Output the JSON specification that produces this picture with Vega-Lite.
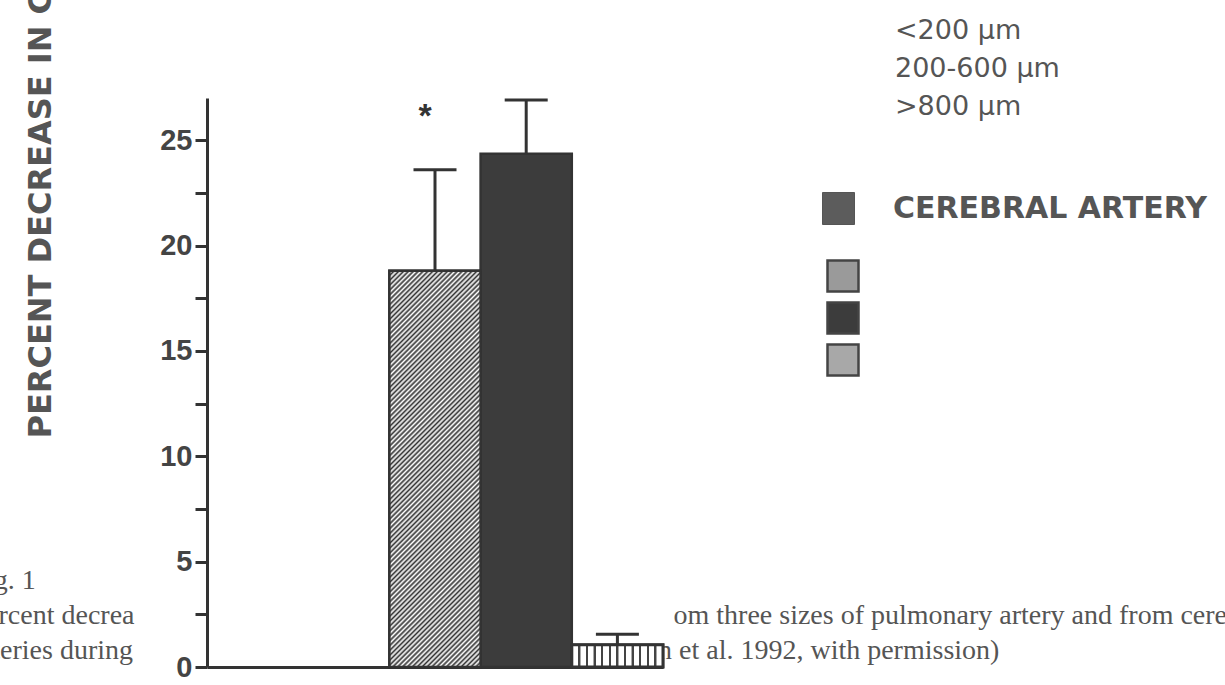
{
  "$schema": "https://vega.github.io/schema/vega-lite/v6.json",
  "width": 456,
  "height": 569,
  "autosize": {"type": "none"},
  "padding": {"left": 207, "top": 98, "right": 562, "bottom": 18},
  "background": "white",
  "config": {"view": {"stroke": null}},
  "title": {
    "text": ["<200 µm", "200-600 µm", ">800 µm"],
    "orient": "top", "anchor": "start", "frame": "group", "align": "left", "baseline": "alphabetic",
    "offset": 0, "dx": 688, "dy": 152,
    "font": "DejaVu Sans", "fontSize": 27, "fontWeight": "normal", "color": "#555", "lineHeight": 38
  },
  "data": {"values": [
    {"size": "<200 µm", "mean": 18.8, "upper": 23.6, "sig": "*"},
    {"size": "200-600 µm", "mean": 24.35, "upper": 26.9, "sig": ""},
    {"size": ">800 µm", "mean": 1.05, "upper": 1.55, "sig": ""}
  ]},
  "encoding": {
    "x": {
      "field": "size", "type": "nominal", "sort": null,
      "scale": {"domain": ["<200 µm", "200-600 µm", ">800 µm"], "paddingInner": 0, "paddingOuter": 1, "align": 1},
      "axis": {
        "title": ["Fig. 1", "Percent decrea\u00a0\u00a0\u00a0\u00a0\u00a0\u00a0\u00a0\u00a0\u00a0\u00a0\u00a0\u00a0\u00a0\u00a0\u00a0\u00a0\u00a0\u00a0\u00a0\u00a0\u00a0\u00a0\u00a0\u00a0\u00a0\u00a0\u00a0\u00a0\u00a0\u00a0\u00a0\u00a0\u00a0\u00a0\u00a0\u00a0\u00a0\u00a0\u00a0\u00a0\u00a0\u00a0\u00a0\u00a0\u00a0\u00a0\u00a0\u00a0\u00a0\u00a0\u00a0\u00a0\u00a0\u00a0\u00a0\u00a0\u00a0\u00a0\u00a0\u00a0\u00a0\u00a0\u00a0\u00a0\u00a0\u00a0\u00a0\u00a0\u00a0\u00a0\u00a0\u00a0\u00a0\u00a0\u00a0\u00a0\u00a0om three sizes of pulmonary artery and from cere", "arteries during\u00a0\u00a0\u00a0\u00a0\u00a0\u00a0\u00a0\u00a0\u00a0\u00a0\u00a0\u00a0\u00a0\u00a0\u00a0\u00a0\u00a0\u00a0\u00a0\u00a0\u00a0\u00a0\u00a0\u00a0\u00a0\u00a0\u00a0\u00a0\u00a0\u00a0\u00a0\u00a0\u00a0\u00a0\u00a0\u00a0\u00a0\u00a0\u00a0\u00a0\u00a0\u00a0\u00a0\u00a0\u00a0\u00a0\u00a0\u00a0\u00a0\u00a0\u00a0\u00a0\u00a0\u00a0\u00a0\u00a0\u00a0\u00a0\u00a0\u00a0\u00a0\u00a0\u00a0\u00a0\u00a0\u00a0\u00a0\u00a0\u00a0\u00a0\u00a0\u00a0\u00a0\u00a0\u00a0n et al. 1992, with permission)"],
        "labels": false, "ticks": false, "grid": false,
        "domainColor": "#333", "domainWidth": 3,
        "titleFont": "Liberation Serif", "titleFontWeight": "normal", "titleFontSize": 28, "titleColor": "#555",
        "titleX": -237, "titleY": -79, "titleAlign": "left", "titleBaseline": "alphabetic", "titleAngle": 0,
        "titleLineHeight": 35, "titleLimit": 3000
      }
    },
    "y": {
      "field": "mean", "type": "quantitative",
      "scale": {"domain": [0, 27], "nice": false},
      "axis": {
        "title": "PERCENT DECREASE IN C",
        "values": [0, 2.5, 5, 7.5, 10, 12.5, 15, 17.5, 20, 22.5, 25],
        "labelExpr": "datum.value % 5 === 0 ? datum.label : ''",
        "grid": false, "labelFlush": false, "labelOverlap": false,
        "domainColor": "#333", "domainWidth": 3, "tickColor": "#333", "tickWidth": 3, "tickSize": 12,
        "labelFont": "Liberation Sans", "labelFontWeight": "bold", "labelFontSize": 29, "labelColor": "#444", "labelPadding": 3,
        "titleFont": "DejaVu Sans", "titleFontWeight": "bold", "titleFontSize": 32, "titleColor": "#555",
        "titleAngle": 270, "titleX": -167, "titleY": 340, "titleAlign": "left", "titleBaseline": "middle", "titleLimit": 2000
      }
    }
  },
  "layer": [
    {
      "mark": {"type": "bar", "stroke": "#333", "strokeWidth": 2.5},
      "encoding": {
        "fill": {
          "field": "size", "type": "nominal",
          "scale": {"domain": ["<200 µm", "200-600 µm", ">800 µm"], "range": ["#9a9a9a", "#3c3c3c", "#a8a8a8"]},
          "legend": {
            "orient": "none", "legendX": 619, "legendY": 161, "title": null, "padding": 0,
            "symbolType": "square", "symbolSize": 961, "symbolStrokeWidth": 2.5, "symbolStrokeColor": "#444", "symbolOpacity": 1,
            "rowPadding": 0, "labelExpr": "''", "labelFontSize": 10
          }
        },
        "opacity": {
          "datum": "CEREBRAL ARTERY", "type": "nominal",
          "scale": {"range": [1]},
          "legend": {
            "orient": "none", "legendX": 615, "legendY": 94, "title": null, "padding": 0,
            "symbolType": "square", "symbolSize": 1024, "symbolFillColor": "#5c5c5c", "symbolStrokeColor": "#555", "symbolStrokeWidth": 1,
            "labelOffset": 38, "labelLimit": 500,
            "labelFont": "DejaVu Sans", "labelFontWeight": "bold", "labelFontSize": 30, "labelColor": "#555", "labelBaseline": "middle"
          }
        }
      }
    },
    {
      "transform": [{"filter": "datum.size === '<200 µm'"}],
      "mark": {"type": "bar", "stroke": "#333", "strokeWidth": 2.5, "fill": {"gradient": "linear", "x1": 0, "y1": 0, "x2": 0.2683, "y2": 1.168, "stops": [
        {"offset": 0, "color": "#333"}, {"offset": 0.005, "color": "#fff"}, {"offset": 0.01, "color": "#333"}, {"offset": 0.015, "color": "#fff"}, {"offset": 0.02, "color": "#333"}, {"offset": 0.025, "color": "#fff"}, {"offset": 0.03, "color": "#333"}, {"offset": 0.035, "color": "#fff"}, {"offset": 0.04, "color": "#333"}, {"offset": 0.045, "color": "#fff"},
        {"offset": 0.05, "color": "#333"}, {"offset": 0.055, "color": "#fff"}, {"offset": 0.06, "color": "#333"}, {"offset": 0.065, "color": "#fff"}, {"offset": 0.07, "color": "#333"}, {"offset": 0.075, "color": "#fff"}, {"offset": 0.08, "color": "#333"}, {"offset": 0.085, "color": "#fff"}, {"offset": 0.09, "color": "#333"}, {"offset": 0.095, "color": "#fff"},
        {"offset": 0.1, "color": "#333"}, {"offset": 0.105, "color": "#fff"}, {"offset": 0.11, "color": "#333"}, {"offset": 0.115, "color": "#fff"}, {"offset": 0.12, "color": "#333"}, {"offset": 0.125, "color": "#fff"}, {"offset": 0.13, "color": "#333"}, {"offset": 0.135, "color": "#fff"}, {"offset": 0.14, "color": "#333"}, {"offset": 0.145, "color": "#fff"},
        {"offset": 0.15, "color": "#333"}, {"offset": 0.155, "color": "#fff"}, {"offset": 0.16, "color": "#333"}, {"offset": 0.165, "color": "#fff"}, {"offset": 0.17, "color": "#333"}, {"offset": 0.175, "color": "#fff"}, {"offset": 0.18, "color": "#333"}, {"offset": 0.185, "color": "#fff"}, {"offset": 0.19, "color": "#333"}, {"offset": 0.195, "color": "#fff"},
        {"offset": 0.2, "color": "#333"}, {"offset": 0.205, "color": "#fff"}, {"offset": 0.21, "color": "#333"}, {"offset": 0.215, "color": "#fff"}, {"offset": 0.22, "color": "#333"}, {"offset": 0.225, "color": "#fff"}, {"offset": 0.23, "color": "#333"}, {"offset": 0.235, "color": "#fff"}, {"offset": 0.24, "color": "#333"}, {"offset": 0.245, "color": "#fff"},
        {"offset": 0.25, "color": "#333"}, {"offset": 0.255, "color": "#fff"}, {"offset": 0.26, "color": "#333"}, {"offset": 0.265, "color": "#fff"}, {"offset": 0.27, "color": "#333"}, {"offset": 0.275, "color": "#fff"}, {"offset": 0.28, "color": "#333"}, {"offset": 0.285, "color": "#fff"}, {"offset": 0.29, "color": "#333"}, {"offset": 0.295, "color": "#fff"},
        {"offset": 0.3, "color": "#333"}, {"offset": 0.305, "color": "#fff"}, {"offset": 0.31, "color": "#333"}, {"offset": 0.315, "color": "#fff"}, {"offset": 0.32, "color": "#333"}, {"offset": 0.325, "color": "#fff"}, {"offset": 0.33, "color": "#333"}, {"offset": 0.335, "color": "#fff"}, {"offset": 0.34, "color": "#333"}, {"offset": 0.345, "color": "#fff"},
        {"offset": 0.35, "color": "#333"}, {"offset": 0.355, "color": "#fff"}, {"offset": 0.36, "color": "#333"}, {"offset": 0.365, "color": "#fff"}, {"offset": 0.37, "color": "#333"}, {"offset": 0.375, "color": "#fff"}, {"offset": 0.38, "color": "#333"}, {"offset": 0.385, "color": "#fff"}, {"offset": 0.39, "color": "#333"}, {"offset": 0.395, "color": "#fff"},
        {"offset": 0.4, "color": "#333"}, {"offset": 0.405, "color": "#fff"}, {"offset": 0.41, "color": "#333"}, {"offset": 0.415, "color": "#fff"}, {"offset": 0.42, "color": "#333"}, {"offset": 0.425, "color": "#fff"}, {"offset": 0.43, "color": "#333"}, {"offset": 0.435, "color": "#fff"}, {"offset": 0.44, "color": "#333"}, {"offset": 0.445, "color": "#fff"},
        {"offset": 0.45, "color": "#333"}, {"offset": 0.455, "color": "#fff"}, {"offset": 0.46, "color": "#333"}, {"offset": 0.465, "color": "#fff"}, {"offset": 0.47, "color": "#333"}, {"offset": 0.475, "color": "#fff"}, {"offset": 0.48, "color": "#333"}, {"offset": 0.485, "color": "#fff"}, {"offset": 0.49, "color": "#333"}, {"offset": 0.495, "color": "#fff"},
        {"offset": 0.5, "color": "#333"}, {"offset": 0.505, "color": "#fff"}, {"offset": 0.51, "color": "#333"}, {"offset": 0.515, "color": "#fff"}, {"offset": 0.52, "color": "#333"}, {"offset": 0.525, "color": "#fff"}, {"offset": 0.53, "color": "#333"}, {"offset": 0.535, "color": "#fff"}, {"offset": 0.54, "color": "#333"}, {"offset": 0.545, "color": "#fff"},
        {"offset": 0.55, "color": "#333"}, {"offset": 0.555, "color": "#fff"}, {"offset": 0.56, "color": "#333"}, {"offset": 0.565, "color": "#fff"}, {"offset": 0.57, "color": "#333"}, {"offset": 0.575, "color": "#fff"}, {"offset": 0.58, "color": "#333"}, {"offset": 0.585, "color": "#fff"}, {"offset": 0.59, "color": "#333"}, {"offset": 0.595, "color": "#fff"},
        {"offset": 0.6, "color": "#333"}, {"offset": 0.605, "color": "#fff"}, {"offset": 0.61, "color": "#333"}, {"offset": 0.615, "color": "#fff"}, {"offset": 0.62, "color": "#333"}, {"offset": 0.625, "color": "#fff"}, {"offset": 0.63, "color": "#333"}, {"offset": 0.635, "color": "#fff"}, {"offset": 0.64, "color": "#333"}, {"offset": 0.645, "color": "#fff"},
        {"offset": 0.65, "color": "#333"}, {"offset": 0.655, "color": "#fff"}, {"offset": 0.66, "color": "#333"}, {"offset": 0.665, "color": "#fff"}, {"offset": 0.67, "color": "#333"}, {"offset": 0.675, "color": "#fff"}, {"offset": 0.68, "color": "#333"}, {"offset": 0.685, "color": "#fff"}, {"offset": 0.69, "color": "#333"}, {"offset": 0.695, "color": "#fff"},
        {"offset": 0.7, "color": "#333"}, {"offset": 0.705, "color": "#fff"}, {"offset": 0.71, "color": "#333"}, {"offset": 0.715, "color": "#fff"}, {"offset": 0.72, "color": "#333"}, {"offset": 0.725, "color": "#fff"}, {"offset": 0.73, "color": "#333"}, {"offset": 0.735, "color": "#fff"}, {"offset": 0.74, "color": "#333"}, {"offset": 0.745, "color": "#fff"},
        {"offset": 0.75, "color": "#333"}, {"offset": 0.755, "color": "#fff"}, {"offset": 0.76, "color": "#333"}, {"offset": 0.765, "color": "#fff"}, {"offset": 0.77, "color": "#333"}, {"offset": 0.775, "color": "#fff"}, {"offset": 0.78, "color": "#333"}, {"offset": 0.785, "color": "#fff"}, {"offset": 0.79, "color": "#333"}, {"offset": 0.795, "color": "#fff"},
        {"offset": 0.8, "color": "#333"}, {"offset": 0.805, "color": "#fff"}, {"offset": 0.81, "color": "#333"}, {"offset": 0.815, "color": "#fff"}, {"offset": 0.82, "color": "#333"}, {"offset": 0.825, "color": "#fff"}, {"offset": 0.83, "color": "#333"}, {"offset": 0.835, "color": "#fff"}, {"offset": 0.84, "color": "#333"}, {"offset": 0.845, "color": "#fff"},
        {"offset": 0.85, "color": "#333"}, {"offset": 0.855, "color": "#fff"}, {"offset": 0.86, "color": "#333"}, {"offset": 0.865, "color": "#fff"}, {"offset": 0.87, "color": "#333"}, {"offset": 0.875, "color": "#fff"}, {"offset": 0.88, "color": "#333"}, {"offset": 0.885, "color": "#fff"}, {"offset": 0.89, "color": "#333"}, {"offset": 0.895, "color": "#fff"},
        {"offset": 0.9, "color": "#333"}, {"offset": 0.905, "color": "#fff"}, {"offset": 0.91, "color": "#333"}, {"offset": 0.915, "color": "#fff"}, {"offset": 0.92, "color": "#333"}, {"offset": 0.925, "color": "#fff"}, {"offset": 0.93, "color": "#333"}, {"offset": 0.935, "color": "#fff"}, {"offset": 0.94, "color": "#333"}, {"offset": 0.945, "color": "#fff"},
        {"offset": 0.95, "color": "#333"}, {"offset": 0.955, "color": "#fff"}, {"offset": 0.96, "color": "#333"}, {"offset": 0.965, "color": "#fff"}, {"offset": 0.97, "color": "#333"}, {"offset": 0.975, "color": "#fff"}, {"offset": 0.98, "color": "#333"}, {"offset": 0.985, "color": "#fff"}, {"offset": 0.99, "color": "#333"}, {"offset": 0.995, "color": "#fff"},
        {"offset": 1, "color": "#333"}
      ]}}
    },
    {
      "transform": [{"filter": "datum.size === '>800 µm'"}],
      "mark": {"type": "bar", "stroke": "#333", "strokeWidth": 3, "fill": {"gradient": "linear", "x1": 0, "y1": 0, "x2": 1, "y2": 0, "stops": [
        {"offset": 0, "color": "#fff"},
        {"offset": 0.0703, "color": "#fff"}, {"offset": 0.0723, "color": "#444"}, {"offset": 0.0943, "color": "#444"}, {"offset": 0.0963, "color": "#fff"},
        {"offset": 0.1537, "color": "#fff"}, {"offset": 0.1557, "color": "#444"}, {"offset": 0.1777, "color": "#444"}, {"offset": 0.1797, "color": "#fff"},
        {"offset": 0.237, "color": "#fff"}, {"offset": 0.239, "color": "#444"}, {"offset": 0.261, "color": "#444"}, {"offset": 0.263, "color": "#fff"},
        {"offset": 0.3203, "color": "#fff"}, {"offset": 0.3223, "color": "#444"}, {"offset": 0.3443, "color": "#444"}, {"offset": 0.3463, "color": "#fff"},
        {"offset": 0.4037, "color": "#fff"}, {"offset": 0.4057, "color": "#444"}, {"offset": 0.4277, "color": "#444"}, {"offset": 0.4297, "color": "#fff"},
        {"offset": 0.487, "color": "#fff"}, {"offset": 0.489, "color": "#444"}, {"offset": 0.511, "color": "#444"}, {"offset": 0.513, "color": "#fff"},
        {"offset": 0.5703, "color": "#fff"}, {"offset": 0.5723, "color": "#444"}, {"offset": 0.5943, "color": "#444"}, {"offset": 0.5963, "color": "#fff"},
        {"offset": 0.6537, "color": "#fff"}, {"offset": 0.6557, "color": "#444"}, {"offset": 0.6777, "color": "#444"}, {"offset": 0.6797, "color": "#fff"},
        {"offset": 0.737, "color": "#fff"}, {"offset": 0.739, "color": "#444"}, {"offset": 0.761, "color": "#444"}, {"offset": 0.763, "color": "#fff"},
        {"offset": 0.8203, "color": "#fff"}, {"offset": 0.8223, "color": "#444"}, {"offset": 0.8443, "color": "#444"}, {"offset": 0.8463, "color": "#fff"},
        {"offset": 0.9037, "color": "#fff"}, {"offset": 0.9057, "color": "#444"}, {"offset": 0.9277, "color": "#444"}, {"offset": 0.9297, "color": "#fff"},
        {"offset": 1, "color": "#fff"}
      ]}}
    },
    {
      "mark": {"type": "rule", "color": "#333", "strokeWidth": 3},
      "encoding": {"y2": {"field": "upper"}}
    },
    {
      "mark": {"type": "tick", "color": "#333", "thickness": 3, "size": 43, "opacity": 1},
      "encoding": {"y": {"field": "upper", "type": "quantitative"}}
    },
    {
      "transform": [{"filter": "datum.sig === '*'"}],
      "mark": {"type": "text", "font": "Liberation Sans", "fontWeight": "bold", "fontSize": 34, "color": "#333", "baseline": "alphabetic", "dx": -10, "dy": -43},
      "encoding": {
        "y": {"field": "upper", "type": "quantitative"},
        "text": {"field": "sig"}
      }
    }
  ]
}
